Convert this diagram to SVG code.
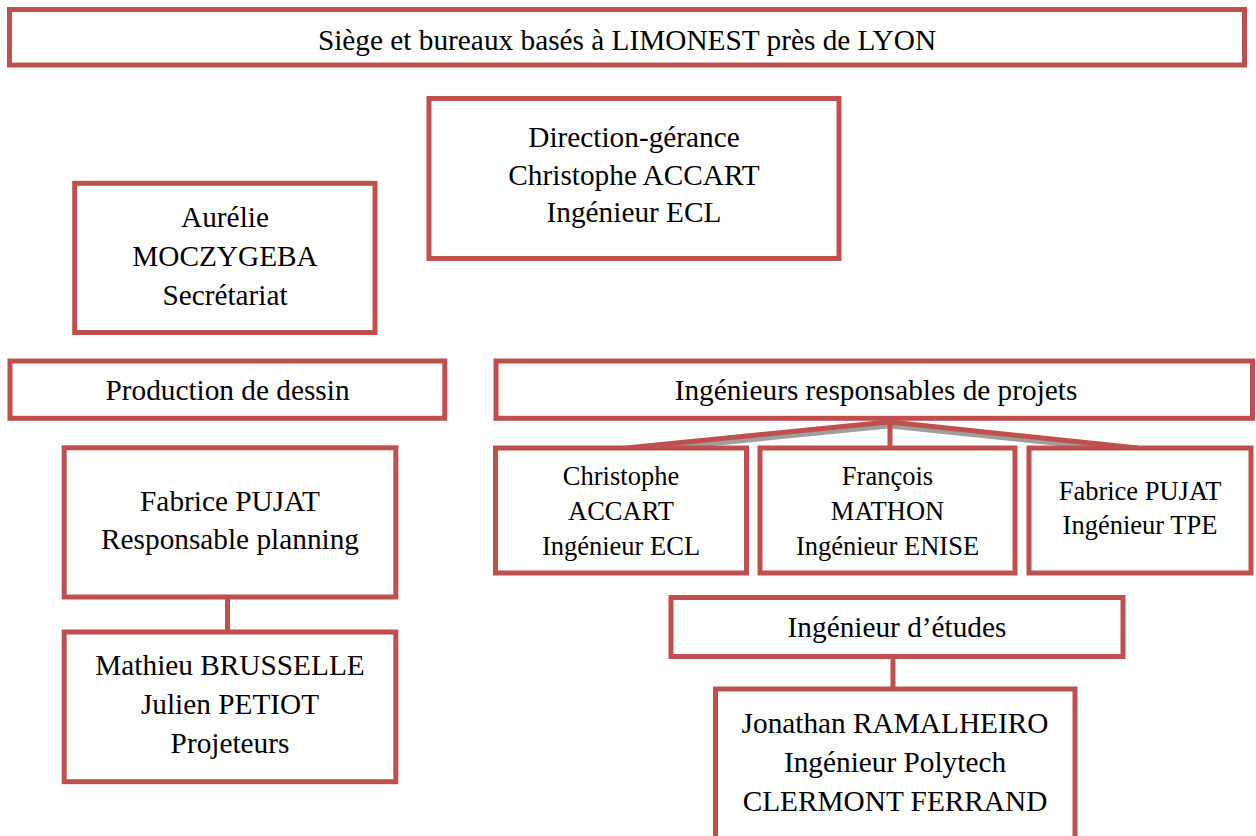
<svg xmlns="http://www.w3.org/2000/svg" width="1256" height="836" viewBox="0 0 1256 836">
<style>
.box{fill:#fff;stroke:#C0504D;stroke-width:5}
.t{font-family:"Liberation Serif","Times New Roman",serif;font-size:29.3px;fill:#000;text-anchor:middle}
.s{font-size:26.5px}
.c{fill:none;stroke:#C0504D;stroke-width:5}
.sh{fill:none;stroke:#9E9E9E;stroke-width:5}
</style>
<rect width="1256" height="836" fill="#fff"/>
<g id="connectors">
<path class="sh" d="M888 426 L628 452 M890 426 L1140 452"/>
<path class="c" d="M888 422 L626 448 M890 422 L1138 448 M890 420 L890 448"/>
<path class="c" d="M227.5 597 L227.5 632"/>
<path class="c" d="M893 657 L893 689"/>
</g>
<g id="siege">
<rect class="box" x="9.5" y="9.5" width="1235" height="55.5"/>
<text class="t" x="627" y="50">Siège et bureaux basés à LIMONEST près de LYON</text>
</g>
<g id="direction">
<rect class="box" x="429" y="98.5" width="410" height="160"/>
<text class="t" x="634" y="147">Direction-gérance</text>
<text class="t" x="634" y="184.5">Christophe ACCART</text>
<text class="t" x="634" y="222">Ingénieur ECL</text>
</g>
<g id="secretariat">
<rect class="box" x="74.7" y="183.3" width="300.3" height="149.2"/>
<text class="t" x="225" y="227.3">Aurélie</text>
<text class="t" x="225" y="266">MOCZYGEBA</text>
<text class="t" x="225" y="305">Secrétariat</text>
</g>
<g id="production">
<rect class="box" x="10" y="361" width="434.8" height="57.3"/>
<text class="t" x="227.5" y="400">Production de dessin</text>
</g>
<g id="ingenieurs">
<rect class="box" x="496" y="361" width="756.5" height="57.3"/>
<text class="t" x="876" y="400">Ingénieurs responsables de projets</text>
</g>
<g id="pujat-planning">
<rect class="box" x="64.2" y="447.8" width="331.6" height="149.2"/>
<text class="t" x="230" y="511">Fabrice PUJAT</text>
<text class="t" x="230" y="549">Responsable planning</text>
</g>
<g id="projeteurs">
<rect class="box" x="64.2" y="632" width="331.6" height="149.7"/>
<text class="t" x="230" y="675">Mathieu BRUSSELLE</text>
<text class="t" x="230" y="714">Julien PETIOT</text>
<text class="t" x="230" y="753">Projeteurs</text>
</g>
<g id="accart">
<rect class="box" x="495.5" y="448" width="251" height="125"/>
<text class="t s" x="621" y="485">Christophe</text>
<text class="t s" x="621" y="520">ACCART</text>
<text class="t s" x="621" y="555">Ingénieur ECL</text>
</g>
<g id="mathon">
<rect class="box" x="760" y="448" width="255" height="125"/>
<text class="t s" x="887.5" y="485">François</text>
<text class="t s" x="887.5" y="520">MATHON</text>
<text class="t s" x="887.5" y="555">Ingénieur ENISE</text>
</g>
<g id="pujat-tpe">
<rect class="box" x="1029" y="448" width="222" height="125"/>
<text class="t s" x="1140" y="500">Fabrice PUJAT</text>
<text class="t s" x="1140" y="534">Ingénieur TPE</text>
</g>
<g id="etudes">
<rect class="box" x="671" y="597.5" width="452" height="59"/>
<text class="t" x="897" y="637">Ingénieur d’études</text>
</g>
<g id="ramalheiro">
<rect class="box" x="715.5" y="689" width="359.5" height="170"/>
<text class="t" x="895" y="733">Jonathan RAMALHEIRO</text>
<text class="t" x="895" y="772">Ingénieur Polytech</text>
<text class="t" x="895" y="811">CLERMONT FERRAND</text>
</g>
</svg>
